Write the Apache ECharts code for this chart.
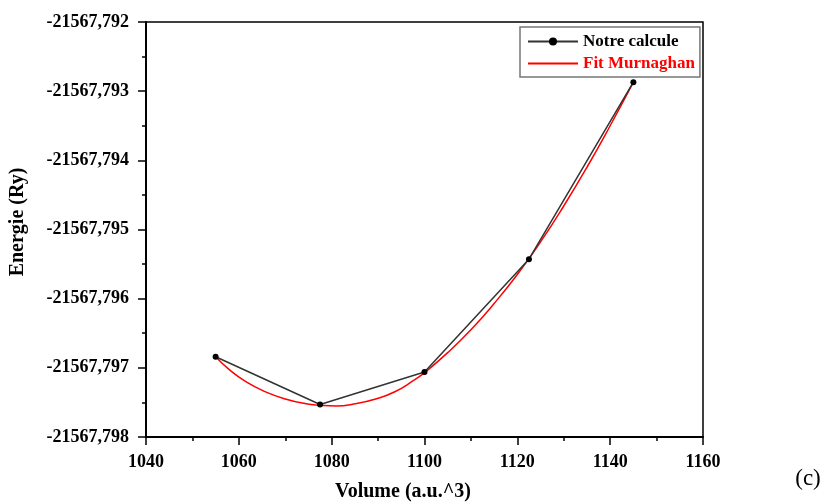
<!DOCTYPE html>
<html>
<head>
<meta charset="utf-8">
<script src="https://cdn.jsdelivr.net/npm/echarts@6/dist/echarts.min.js"></script>
<style>
  html, body { margin: 0; padding: 0; background: #fff; }
  #chart { width: 829px; height: 504px; }
</style>
</head>
<body>
<div id="chart"></div>
<script>
// Computed total energies (Ry) versus cell volume (a.u.^3)
const volumes = [1055, 1077.5, 1100, 1122.5, 1145];
const energies = [-21567.79684, -21567.79753, -21567.79706, -21567.79543, -21567.79287];

// Murnaghan equation-of-state fit, sampled along the volume range
const fitVolumes = [1055, 1058, 1061.5, 1065.5, 1070, 1074.5, 1077.5, 1081, 1085, 1089.5, 1093.5,
                    1097.5, 1100, 1105, 1110, 1115, 1120, 1125, 1130, 1135, 1140, 1145];
const fitEnergies = [-21567.79684, -21567.79703, -21567.79720, -21567.79734, -21567.79745, -21567.79752,
                     -21567.79754, -21567.79755, -21567.79752, -21567.79745, -21567.79735,
                     -21567.79719, -21567.79707, -21567.79678, -21567.79645, -21567.79607, -21567.79565,
                     -21567.79518, -21567.79466, -21567.79410, -21567.79350, -21567.79287];

const seriesNames = ['Notre calcule', 'Fit Murnaghan'];
const xTitle = 'Volume (a.u.^3)';
const yTitle = 'Energie (Ry)';
const panelTag = '(c)';

const serif = '"Liberation Serif", "Times New Roman", serif';

const chart = echarts.init(document.getElementById('chart'), null, { renderer: 'canvas' });

chart.setOption({
  backgroundColor: '#fff',
  animation: false,
  grid: {
    left: 146, right: 126, top: 22, bottom: 67,
    show: true, borderColor: '#000', borderWidth: 1.5, backgroundColor: 'transparent'
  },
  legend: {
    orient: 'vertical',
    left: 520, top: 27,
    itemWidth: 50, itemHeight: 10, itemGap: 5,
    padding: [6, 5, 5, 7],
    borderColor: '#777', borderWidth: 1.5,
    textStyle: { fontFamily: serif, fontWeight: 'bold', fontSize: 17, color: '#000' },
    data: [
      { name: seriesNames[0] },
      { name: seriesNames[1], textStyle: { color: '#ff0000' },
        itemStyle: { color: 'rgba(0,0,0,0)', borderWidth: 0, opacity: 0 } }
    ]
  },
  xAxis: {
    type: 'value',
    min: 1040, max: 1160, interval: 20,
    axisLine: { show: true, onZero: false, lineStyle: { color: '#000', width: 2 } },
    axisTick: { show: true, inside: false, length: 8, lineStyle: { color: '#000', width: 1.5 } },
    minorTick: { show: true, splitNumber: 2, length: 4, lineStyle: { color: '#000', width: 1.5 } },
    splitLine: { show: false },
    axisLabel: { margin: 16, fontFamily: serif, fontWeight: 'bold', fontSize: 18, color: '#000',
                 formatter: v => String(v) }
  },
  yAxis: {
    type: 'value',
    min: -21567.798, max: -21567.792, interval: 0.001,
    axisLine: { show: true, onZero: false, lineStyle: { color: '#000', width: 2 } },
    axisTick: { show: true, inside: false, length: 8, lineStyle: { color: '#000', width: 1.5 } },
    minorTick: { show: true, splitNumber: 2, length: 4, lineStyle: { color: '#000', width: 1.5 } },
    splitLine: { show: false },
    axisLabel: {
      margin: 17, fontFamily: serif, fontWeight: 'bold', fontSize: 18, color: '#000',
      formatter: v => v.toFixed(3).replace('.', ',')
    }
  },
  graphic: [
    {
      type: 'text',
      style: { text: xTitle, x: 403, y: 492, align: 'center', verticalAlign: 'middle',
               font: 'bold 20px ' + serif, fill: '#000' }
    },
    {
      type: 'text', x: 18, y: 222, rotation: Math.PI / 2,
      style: { text: yTitle, x: 0, y: 0, align: 'center', verticalAlign: 'middle',
               font: 'bold 20px ' + serif, fill: '#000' }
    },
    {
      type: 'text',
      style: { text: panelTag, x: 808, y: 479, align: 'center', verticalAlign: 'middle',
               font: '23px ' + serif, fill: '#000' }
    }
  ],
  series: [
    {
      name: seriesNames[1],
      type: 'line',
      data: fitVolumes.map((v, i) => [v, fitEnergies[i]]),
      smooth: true,
      symbol: 'none',
      lineStyle: { color: '#ff0000', width: 1.5 },
      itemStyle: { color: '#ff0000' },
      z: 2
    },
    {
      name: seriesNames[0],
      type: 'line',
      data: volumes.map((v, i) => [v, energies[i]]),
      symbol: 'circle',
      symbolSize: 6,
      lineStyle: { color: '#333', width: 1.5 },
      itemStyle: { color: '#000' },
      z: 3
    }
  ]
});
</script>
</body>
</html>
